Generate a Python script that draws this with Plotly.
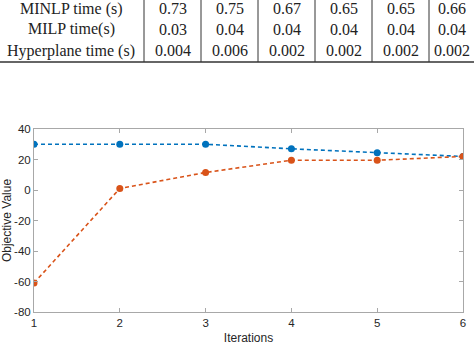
import plotly.graph_objects as go

# ---- data ----
iterations = [1, 2, 3, 4, 5, 6]
upper_bound = [30, 30, 30, 27, 24.5, 22]
lower_bound = [-61, 1, 11.5, 19.5, 19.5, 22]
y_ticks = [-80, -60, -40, -20, 0, 20, 40]

row_labels = ["MINLP time (s)", "MILP time(s)", "Hyperplane time (s)"]
minlp_time = ["0.73", "0.75", "0.67", "0.65", "0.65", "0.66"]
milp_time = ["0.03", "0.04", "0.04", "0.04", "0.04", "0.04"]
hyper_time = ["0.004", "0.006", "0.002", "0.002", "0.002", "0.002"]

W, H = 474, 345
L, R, T, B = 34, 11, 129, 33
PW, PH = W - L - R, H - T - B

def px(x):
    return (x - L) / PW

def py(y):
    return 1 - (y - T) / PH

fig = go.Figure()
fig.add_trace(go.Scatter(
    x=iterations, y=upper_bound, mode="lines+markers",
    line=dict(color="#0072BD", width=1.6, dash="4px,3px"),
    marker=dict(color="#0072BD", size=7), showlegend=False))
fig.add_trace(go.Scatter(
    x=iterations, y=lower_bound, mode="lines+markers",
    line=dict(color="#D95319", width=1.6, dash="4px,3px"),
    marker=dict(color="#D95319", size=7), showlegend=False))

axis_common = dict(showgrid=False, zeroline=False, showline=True, mirror="ticks",
                   linecolor="#a8a8a8", linewidth=1, ticks="inside", ticklen=4,
                   tickcolor="#a8a8a8", automargin=False,
                   tickfont=dict(family="Liberation Sans, Arial", size=11.5, color="#262626"))

fig.update_xaxes(range=[1, 6], tickvals=iterations, title=dict(
    text="Iterations", standoff=6,
    font=dict(family="Liberation Sans, Arial", size=12, color="#262626")), **axis_common)
fig.update_yaxes(range=[-80, 40], tickvals=y_ticks, ticktext=[str(v) for v in y_ticks],
                 title=dict(text="Objective Value", standoff=2,
                            font=dict(family="Liberation Sans, Arial", size=12, color="#262626")),
                 **axis_common)

# ---- table above chart ----
table_font = dict(family="Liberation Serif", size=16, color="#222222")
row_y = [8.5, 29.5, 50.5]
label_x = 71
col_edges = [144 + 57 * i for i in range(len(iterations))]
rows = [minlp_time, milp_time, hyper_time]

annotations = []
for r, (lab, vals) in enumerate(zip(row_labels, rows)):
    annotations.append(dict(xref="paper", yref="paper", x=px(label_x), y=py(row_y[r]),
                            text=lab, showarrow=False, font=table_font,
                            xanchor="center", yanchor="middle"))
    for c, v in enumerate(vals):
        cx = col_edges[c] + 28.5
        if c == len(vals) - 1:
            cx = min(cx, W - 22)  # keep last column text inside the page
        annotations.append(dict(xref="paper", yref="paper", x=px(cx),
                                y=py(row_y[r]), text=v, showarrow=False, font=table_font,
                                xanchor="center", yanchor="middle"))

shapes = []
for e in col_edges:
    shapes.append(dict(type="line", xref="paper", yref="paper",
                       x0=px(e), x1=px(e), y0=py(-2), y1=py(62),
                       line=dict(color="#333333", width=1)))
shapes.append(dict(type="line", xref="paper", yref="paper",
                   x0=px(0), x1=px(W), y0=py(62), y1=py(62),
                   line=dict(color="#333333", width=1.5)))

fig.update_layout(width=W, height=H, margin=dict(l=L, r=R, t=T, b=B),
                  plot_bgcolor="white", paper_bgcolor="white",
                  annotations=annotations, shapes=shapes)

fig.write_html("out.html")
